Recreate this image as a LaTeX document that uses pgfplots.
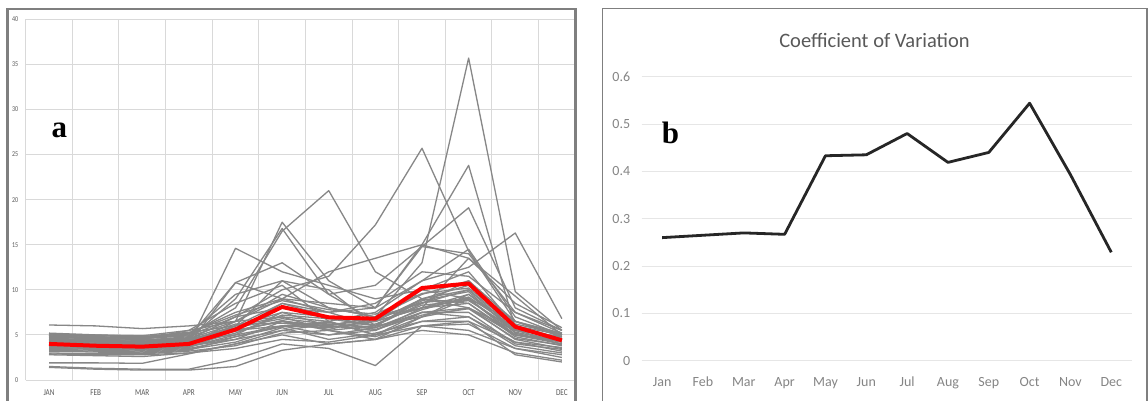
\documentclass[border=0pt]{standalone}
\usepackage{pgfplots}
\pgfplotsset{compat=1.18}
\usepackage{fontspec}
\setmainfont{Carlito}
\newfontfamily\condfont[FakeStretch=0.8]{Carlito}
\newfontfamily\serifb{Liberation Serif}
\definecolor{gridA}{HTML}{D9D9D9}
\definecolor{labA}{HTML}{595959}
\definecolor{lineA}{HTML}{878787}
\definecolor{gridB}{HTML}{E6E6E6}
\definecolor{labB}{HTML}{858585}
\definecolor{titleB}{HTML}{595959}
\definecolor{lineB}{HTML}{262626}
\definecolor{frameC}{HTML}{7F7F7F}

\pgfplotstableread{
m  L1  L2  L3  L4  L5  L6  L7  L8  L9  L10 L11 L12 L13 L14 L15 L16 L17 L18 L19 L20 L21 L22 L23 L24 L25 L26 L27 L28 L29 L30 L31 L32 L33 L34 L35 L36 L37 L38 L39 L40
0  4.8 4.2 4.5 5.0 4.6 4.3 4.0 5.2 4.4 3.8 6.1 4.9 4.1 3.6 3.4 3.2 2.8 1.9 1.4 1.5 5.0 4.7 4.5 4.2 3.9 3.7 3.5 3.3 4.0 4.8 3.0 5.1 4.6 3.8 4.3 2.9 4.4 3.6 5.0 4.1
1  4.6 4.0 4.3 4.8 4.5 4.2 3.9 5.0 4.3 3.7 6.0 4.7 4.0 3.5 3.3 3.1 2.7 1.9 1.2 1.3 4.9 4.6 4.4 4.1 3.8 3.6 3.4 3.2 3.9 4.7 2.9 5.0 4.4 3.7 4.2 2.8 4.3 3.5 4.8 4.0
2  4.5 4.0 4.2 4.6 4.4 4.1 3.8 4.8 4.2 3.6 5.7 4.6 3.9 3.4 3.2 3.0 2.6 1.85 1.1 1.2 4.8 4.5 4.3 4.0 3.8 3.5 3.3 3.1 3.8 4.6 2.9 4.9 4.3 3.6 4.1 2.8 4.2 3.4 4.7 3.9
3  4.6 4.3 4.5 5.0 4.8 4.6 4.0 5.2 4.4 4.0 6.0 5.1 4.2 3.7 3.5 3.3 3.0 2.9 1.1 1.2 5.3 5.5 4.5 4.4 4.0 3.8 3.6 3.4 4.1 4.9 3.2 5.5 4.7 3.9 4.5 3.0 4.6 3.7 5.2 4.2
4  5.5 6.0 7.0 8.0 6.5 9.0 14.6 7.5 6.0 10.8 6.5 9.5 5.5 5.0 4.5 4.8 4.0 4.0 1.5 2.3 6.0 8.5 5.5 5.0 6.5 4.5 5.5 4.2 6.0 7.0 3.8 6.5 10.8 5.2 5.8 3.5 6.2 4.8 7.2 5.4
5  6.5 8.5 10.0 16.5 17.5 16.8 12.0 9.0 7.0 13.0 9.0 11.0 8.5 7.5 6.5 6.0 5.5 5.0 3.3 4.0 7.5 10.5 6.5 6.0 7.0 5.5 6.0 5.8 11.0 8.0 5.2 9.5 9.0 7.2 6.8 4.5 6.3 5.9 8.8 6.6
6  6.0 7.5 11.5 21.0 11.0 9.5 10.5 8.5 6.5 9.5 12.0 8.0 7.0 6.0 5.5 6.5 5.0 4.0 4.0 3.5 7.0 6.5 6.0 5.8 5.5 6.2 5.0 4.5 10.0 7.5 5.5 8.0 7.5 6.8 6.2 4.2 5.9 6.4 7.8 5.6
7  7.0 8.0 17.2 12.0 8.0 6.5 9.0 8.0 7.5 10.5 13.5 7.0 6.0 5.5 6.0 5.0 5.5 4.5 4.5 1.6 6.5 5.0 7.0 6.5 4.5 6.5 5.8 5.2 6.0 8.5 4.8 7.0 6.0 6.0 5.8 5.0 6.2 5.6 7.3 6.8
8  13.0 15.0 25.7 9.0 11.0 8.0 10.0 14.8 11.0 14.8 15.0 9.5 8.5 8.0 9.0 7.0 7.5 6.0 5.5 6.0 10.0 7.5 8.5 9.0 7.0 8.0 7.5 6.5 7.0 12.0 6.5 8.0 9.0 8.8 7.8 6.0 8.3 7.2 9.6 8.6
9  35.7 23.8 14.3 8.0 14.5 9.0 12.0 19.1 12.5 14.0 13.5 11.0 10.0 9.5 8.5 8.0 7.0 5.5 5.0 6.5 9.0 8.0 11.0 10.0 9.0 8.5 7.5 7.0 9.5 11.5 6.5 13.5 10.5 9.8 9.2 6.2 8.8 7.9 10.2 9.0
10 9.8 5.8 6.5 5.5 7.0 5.0 6.0 8.0 16.3 7.5 8.5 6.5 6.0 5.5 5.0 4.5 4.2 3.5 3.0 2.8 6.5 5.0 6.0 5.5 5.0 4.8 4.0 3.8 6.0 7.5 4.2 9.3 6.5 5.2 5.8 3.5 5.6 4.6 6.2 5.3
11 5.5 4.5 4.8 4.8 5.0 4.2 4.5 5.5 6.8 5.2 5.8 5.0 4.6 4.2 4.0 3.5 3.2 2.8 2.2 2.0 5.2 4.5 5.0 4.8 4.3 3.8 3.4 3.0 4.5 5.5 3.6 5.0 4.8 4.0 4.4 2.5 4.6 3.9 5.1 4.3
}\dataA

\pgfplotstableread{
m mean
0 4.0
1 3.8
2 3.7
3 4.0
4 5.6
5 8.1
6 6.95
7 6.8
8 10.2
9 10.7
10 5.9
11 4.4
}\meanA

\pgfplotstableread{
m cv
0 0.260
1 0.265
2 0.270
3 0.267
4 0.433
5 0.435
6 0.480
7 0.419
8 0.440
9 0.544
10 0.393
11 0.229
}\dataB

\begin{document}
\begin{tikzpicture}[x=1pt,y=1pt]
\useasboundingbox (0,0) rectangle (1148,400);
\clip (0,0) rectangle (1148,400);
\fill[white] (0,0) rectangle (1148,400);

% panel a
\begin{axis}[
  at={(25.7pt,20pt)}, anchor=south west,
  scale only axis, width=548.3pt, height=360.7pt,
  xmin=-0.5, xmax=11.26, ymin=0, ymax=40,
  axis line style={draw=none},
  xtick={0,...,11},
  xticklabels={JAN,FEB,MAR,APR,MAY,JUN,JUL,AUG,SEP,OCT,NOV,DEC},
  minor xtick={-0.5,0.5,...,10.5},
  ytick={0,5,...,40},
  xminorgrids=true, xmajorgrids=false, ymajorgrids=true,
  major grid style={draw=gridA, line width=0.9pt},
  minor grid style={draw=gridA, line width=0.9pt},
  tick style={draw=none},
  /pgf/number format/assume math mode=true,
  xticklabel style={font=\condfont\fontsize{9}{9}\selectfont, text=labA, anchor=base, yshift=-15pt},
  yticklabel style={font=\condfont\fontsize{7.5}{8}\selectfont, text=labA, anchor=east, xshift=-4pt},
  clip=true,
]
\foreach \c in {L1,L2,L3,L4,L5,L6,L7,L8,L9,L10,L11,L12,L13,L14,L15,L16,L17,L18,L19,L20,L21,L22,L23,L24,L25,L26,L27,L28,L29,L30,L31,L32,L33,L34,L35,L36,L37,L38,L39,L40}{
  \addplot[lineA, line width=1.3pt, line join=round] table[x=m, y=\c] {\dataA};
}
\addplot[red, line width=4pt, line join=round] table[x=m, y=mean] {\meanA};
\end{axis}

% panel b
\begin{axis}[
  at={(641.7pt,39.3pt)}, anchor=south west,
  scale only axis, width=490pt, height=284pt,
  xmin=-0.5, xmax=11.5, ymin=0, ymax=0.6,
  axis line style={draw=none},
  xtick={0,...,11},
  xticklabels={Jan,Feb,Mar,Apr,May,Jun,Jul,Aug,Sep,Oct,Nov,Dec},
  ytick={0,0.1,0.2,0.3,0.4,0.5,0.6},
  yticklabels={0,0.1,0.2,0.3,0.4,0.5,0.6},
  ymajorgrids=true,
  major grid style={draw=gridB, line width=1pt},
  tick style={draw=none},
  /pgf/number format/assume math mode=true,
  xticklabel style={font=\fontsize{14}{14}\selectfont, text=labB, anchor=base, yshift=-26pt},
  yticklabel style={font=\fontsize{14}{14}\selectfont, text=labB, anchor=east, xshift=-8pt},
  clip=false,
]
\addplot[lineB, line width=2.8pt, line join=round] table[x=m, y=cv] {\dataB};
\end{axis}

% frames
\draw[frameC, line width=2.5pt] (7.5,-20) -- (7.5,391) -- (575.5,391) -- (575.5,-20);
\draw[frameC, line width=1.6pt] (602.5,-20) -- (602.5,391.5) -- (1147,391.5) -- (1147,-20);

% title and panel letters
\node[anchor=base, text=titleB, font=\fontsize{20.5}{22}\selectfont, inner sep=0] at (874.5,352.3) {Coefficient of Variation};
\node[anchor=base west, font=\serifb\bfseries\fontsize{31}{31}\selectfont, inner sep=0] at (51.5,262.7) {a};
\node[anchor=base west, font=\serifb\bfseries\fontsize{31}{31}\selectfont, inner sep=0] at (661.7,256.7) {b};
\end{tikzpicture}
\end{document}
